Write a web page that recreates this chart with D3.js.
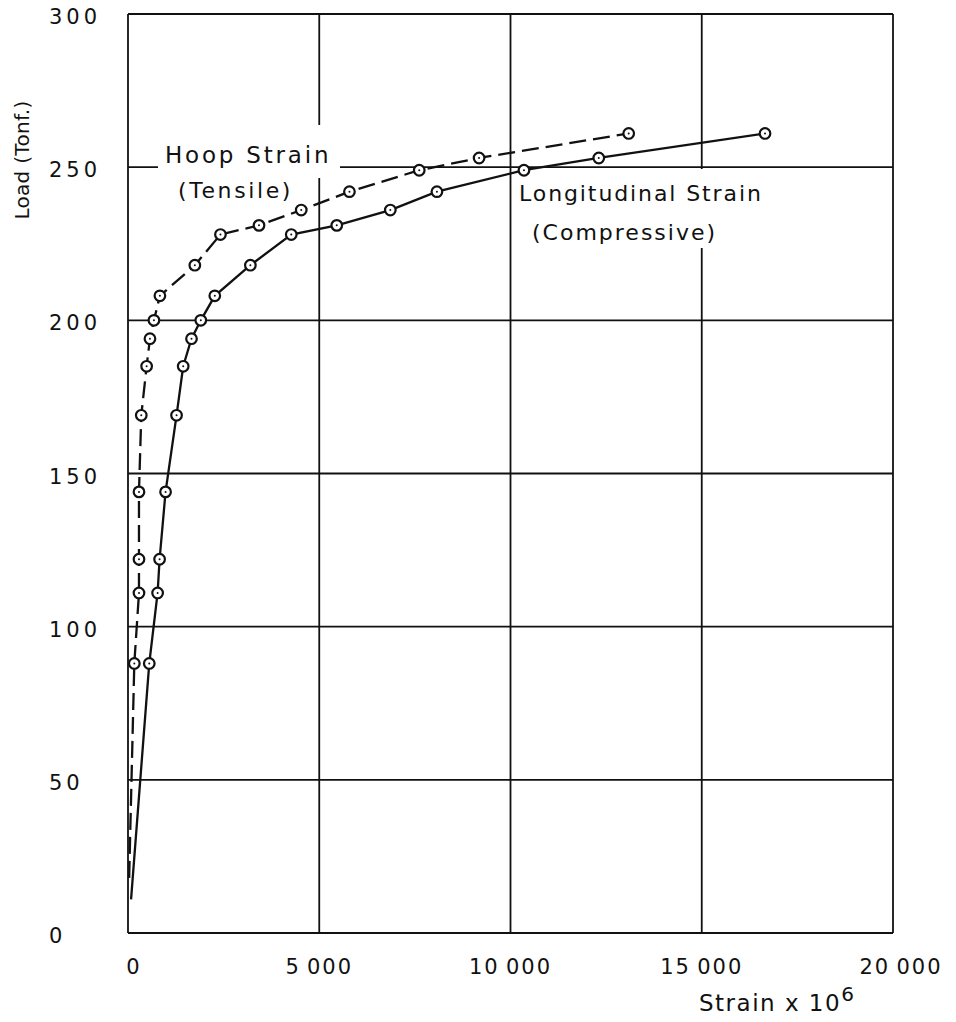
<!DOCTYPE html>
<html>
<head>
<meta charset="utf-8">
<script src="https://cdn.jsdelivr.net/npm/d3@7"></script>
<style>
  html, body { margin: 0; padding: 0; background: #fff; }
  svg { display: block; }
  text { font-family: "DejaVu Sans", sans-serif; fill: #111; }
</style>
</head>
<body>
<svg id="chart" width="956" height="1022"></svg>
<script>
// ---- data ----
const loads = [88, 111, 122, 144, 169, 185, 194, 200, 208, 218, 228, 231, 236, 242, 249, 253, 261];
const hoopStrain = [165, 287, 287, 287, 347, 487, 574, 678, 834, 1747, 2417, 3425, 4529, 5789, 7614, 9179, 13090];
const longStrain = [556, 774, 826, 982, 1269, 1443, 1660, 1903, 2269, 3199, 4268, 5458, 6858, 8076, 10352, 12308, 16654];
// start of the drawn curves near the origin (no marker)
const hoopStart = [30, 18];
const longStart = [80, 11];

const xTicks = [0, 5000, 10000, 15000, 20000];
const xTickLabels = ["0", "5\u2009000", "10\u2009000", "15\u2009000", "20\u2009000"];
const yTicks = [0, 50, 100, 150, 200, 250, 300];
const yTickLabels = ["0", "50", "100", "150", "200", "250", "300"];

// ---- layout ----
const svg = d3.select("#chart");
const x = d3.scaleLinear().domain([0, 20000]).range([128, 893]);
const y = d3.scaleLinear().domain([0, 300]).range([933, 14]);

// grid
const grid = svg.append("g").attr("stroke", "#111").attr("stroke-width", 1.8);
grid.selectAll("line.v").data(xTicks).join("line")
  .attr("x1", d => x(d)).attr("x2", d => x(d))
  .attr("y1", y(0)).attr("y2", y(300));
grid.selectAll("line.h").data(yTicks).join("line")
  .attr("x1", x(0)).attr("x2", x(20000))
  .attr("y1", d => y(d)).attr("y2", d => y(d));

// label backgrounds (break grid lines like the reference)
svg.append("rect").attr("x", 158).attr("y", 125).attr("width", 182).attr("height", 53).attr("fill", "#fff");
svg.append("rect").attr("x", 517).attr("y", 169).attr("width", 263).attr("height", 79).attr("fill", "#fff");

// tick labels
svg.append("g").selectAll("text").data(yTicks).join("text")
  .attr("x", 49).attr("y", d => y(d) + 3)
  .attr("dominant-baseline", "central")
  .attr("font-size", 21).attr("letter-spacing", 4)
  .text((d, i) => yTickLabels[i]);

svg.append("g").selectAll("text").data(xTicks).join("text")
  .attr("x", (d, i) => x(d) + (i === 0 ? 6 : (i === 4 ? 8 : 0)))
  .attr("y", 974)
  .attr("text-anchor", "middle")
  .attr("font-size", 21).attr("letter-spacing", 2)
  .text((d, i) => xTickLabels[i]);

// axis titles
const xt = svg.append("text").attr("x", 699).attr("y", 1011).attr("font-size", 23).attr("letter-spacing", 1.5);
xt.append("tspan").text("Strain  x  10");
xt.append("tspan").attr("dy", -10).attr("font-size", 20).text("6");

svg.append("text")
  .attr("transform", "translate(29,160) rotate(-90)")
  .attr("text-anchor", "middle")
  .attr("font-size", 20).attr("letter-spacing", 0.3)
  .text("Load (Tonf.)");

// series labels
svg.append("text").attr("x", 165).attr("y", 163).attr("font-size", 23).attr("letter-spacing", 2.8).text("Hoop Strain");
svg.append("text").attr("x", 178).attr("y", 198).attr("font-size", 22).attr("letter-spacing", 2.6).text("(Tensile)");
svg.append("text").attr("x", 519).attr("y", 201).attr("font-size", 22).attr("letter-spacing", 1.9).text("Longitudinal Strain");
svg.append("text").attr("x", 532).attr("y", 240).attr("font-size", 22).attr("letter-spacing", 2).text("(Compressive)");

// lines
const line = d3.line().x(d => x(d[0])).y(d => y(d[1]));
const hoopPts = [hoopStart].concat(hoopStrain.map((s, i) => [s, loads[i]]));
const longPts = [longStart].concat(longStrain.map((s, i) => [s, loads[i]]));

svg.append("path").datum(hoopPts).attr("d", line)
  .attr("fill", "none").attr("stroke", "#111").attr("stroke-width", 2.3)
  .attr("stroke-dasharray", "17,7");
svg.append("path").datum(longPts).attr("d", line)
  .attr("fill", "none").attr("stroke", "#111").attr("stroke-width", 2.3);

// markers
function markers(pts) {
  const g = svg.append("g");
  g.selectAll("circle.m").data(pts).join("circle")
    .attr("cx", d => x(d[0])).attr("cy", d => y(d[1])).attr("r", 5.3)
    .attr("fill", "#fff").attr("stroke", "#111").attr("stroke-width", 2.2);
  g.selectAll("circle.d").data(pts).join("circle")
    .attr("cx", d => x(d[0])).attr("cy", d => y(d[1])).attr("r", 1)
    .attr("fill", "#111");
}
markers(hoopPts.slice(1));
markers(longPts.slice(1));
</script>
</body>
</html>
